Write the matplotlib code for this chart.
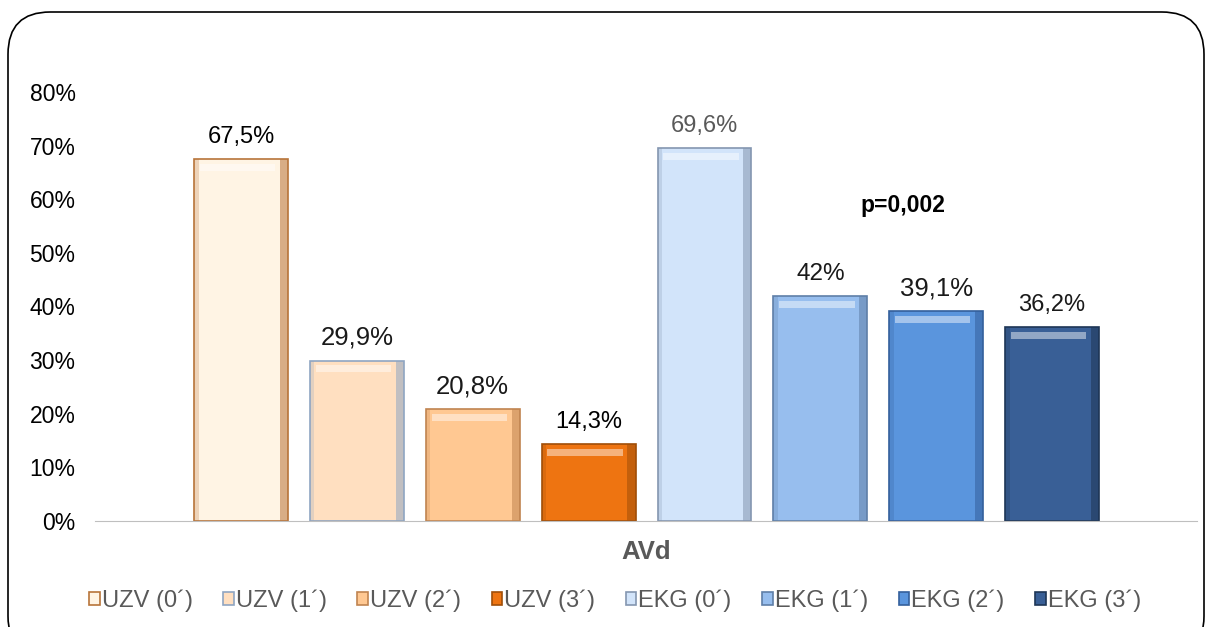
import matplotlib.pyplot as plt
import numpy as np
from matplotlib.patches import FancyBboxPatch

series = ["UZV (0´)", "UZV (1´)", "UZV (2´)", "UZV (3´)",
          "EKG (0´)", "EKG (1´)", "EKG (2´)", "EKG (3´)"]
values = [67.5, 29.9, 20.8, 14.3, 69.6, 42.0, 39.1, 36.2]
labels = ["67,5%", "29,9%", "20,8%", "14,3%", "69,6%", "42%", "39,1%", "36,2%"]
category = "AVd"
p_text = "p=0,002"

colors = ["#FFF4E4", "#FFDFC0", "#FFC892", "#EE7411",
          "#D2E4FA", "#97BEEE", "#5A95DD", "#395F96"]
edges = ["#B8743A", "#8FA5C2", "#C08450", "#A04E08",
         "#8496B0", "#5F7FA8", "#34609C", "#1E3656"]
lab_colors = ["#000000", "#1a1a1a", "#1a1a1a", "#000000",
              "#595959", "#1a1a1a", "#1a1a1a", "#1a1a1a"]
lab_sizes = [17, 18.5, 18.5, 17, 17, 17.5, 18.5, 17]

fig = plt.figure(figsize=(12.08, 6.27), dpi=100)
ax = fig.add_axes([95 / 1208, 1 - 521 / 627, 1102 / 1208, 429 / 627])

x = np.arange(len(values))
w = 0.81
bars = []
for i, v in enumerate(values):
    b = ax.bar(x[i], v, width=w, color=colors[i], edgecolor=edges[i],
               linewidth=1.2, label=series[i], zorder=2)
    bars.append(b)
    # bevel shading: dark right side, lighter top band
    ax.bar(x[i] + w / 2 - 0.035, v, width=0.07, color=edges[i], alpha=0.55,
           linewidth=0, zorder=3)
    ax.bar(x[i] - w / 2 + 0.02, v, width=0.04, color=edges[i], alpha=0.25,
           linewidth=0, zorder=3)
    ax.bar(x[i] - 0.03, 1.3, bottom=v - 2.2, width=w - 0.16, color="white",
           alpha=0.45, linewidth=0, zorder=3)
    ax.text(x[i], v + 2.1, labels[i], ha="center", va="bottom",
            fontsize=lab_sizes[i], color=lab_colors[i], family="Liberation Sans")

ax.text(5.71, 58.8, p_text, ha="center", va="center", fontsize=16.5,
        fontweight="bold", family="Liberation Sans")

ax.set_xlim(-1.259, 8.25)
ax.set_ylim(0, 80)
ax.set_yticks(np.arange(0, 81, 10))
ax.set_yticklabels(["%d%%" % t for t in np.arange(0, 81, 10)],
                   fontsize=16.5, family="Liberation Sans")
ax.set_xticks([])
ax.tick_params(axis="y", length=0, pad=14)
for s in ["top", "right", "left"]:
    ax.spines[s].set_visible(False)
ax.spines["bottom"].set_color("#BFBFBF")
ax.spines["bottom"].set_zorder(4)

fig.text(646 / 1208, 1 - 552 / 627, category, ha="center", va="center",
         fontsize=18.5, fontweight="bold", color="#595959", family="Liberation Sans")

handles = [b[0] for b in bars]
leg = fig.legend(handles, series, loc="center", bbox_to_anchor=(615 / 1208, 1 - 601 / 627),
                 ncol=8, frameon=False, handlelength=0.45, handleheight=0.45,
                 handletextpad=0.08, columnspacing=1.3,
                 prop={"family": "Liberation Sans", "size": 17})
for t in leg.get_texts():
    t.set_color("#595959")

border = FancyBboxPatch((8 / 1208, -0.05), 1196 / 1208, 1 - 12 / 627 + 0.05,
                        boxstyle="round,pad=0,rounding_size=0.035",
                        transform=fig.transFigure, fill=False,
                        edgecolor="black", linewidth=1.2, mutation_aspect=1208 / 627)
fig.patches.append(border)

fig.savefig("out.png", dpi=100)
